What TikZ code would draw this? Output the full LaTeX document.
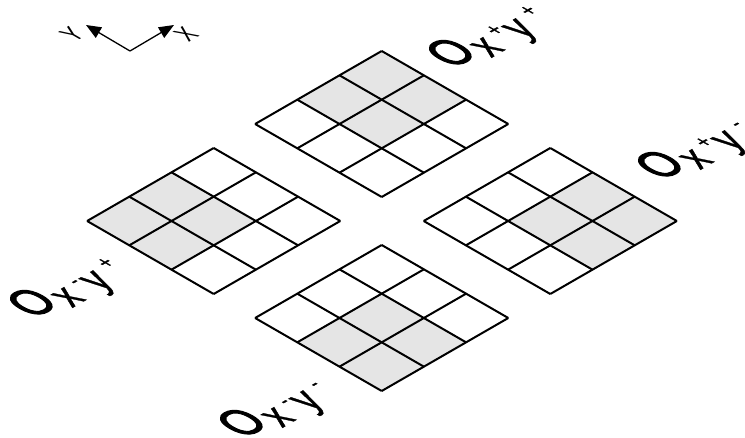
\documentclass[tikz,border=0pt]{standalone}
\usepackage{fontspec}
\setmainfont{Liberation Sans}
\newfontfamily\thickfont[FakeBold=1]{Liberation Sans}
\usetikzlibrary{arrows.meta}
\tikzset{
  x=1pt,y=-1pt,
  gridline/.style={line width=2pt,line join=miter,line cap=butt,black},
  shaded/.style={fill=black!10,draw=none},
  isotext/.style={inner sep=0pt,outer sep=0pt,anchor=base west,cm={.866,.5,-1.23,.71,(0,0)}},
  axisline/.style={line width=1.3pt,black,-{Triangle[length=15pt,width=12pt]}}
}
% cx cy umin vmin of the 2x2 shaded block
\newcommand{\isogrid}[4]{%
  \begin{scope}[shift={(#1,#2)}]
    \foreach \uu in {0,1}{\foreach \vv in {0,1}{%
      \pgfmathsetmacro{\ua}{#3+\uu}\pgfmathsetmacro{\va}{#4+\vv}%
      \fill[shaded] ({-126.6+42.2*(\ua+\va)},{24.33*(\va-\ua)})
        -- ++(42.2,-24.33) -- ++(42.2,24.33) -- ++(-42.2,24.33) -- cycle;
    }}
    \foreach \k in {0,1,2,3}{%
      \draw[gridline] ({-126.6+42.2*\k},{24.33*\k}) -- ++(126.6,-73);
      \draw[gridline] ({-126.6+42.2*\k},{-24.33*\k}) -- ++(126.6,73);
    }
  \end{scope}}
\newcommand{\isolabel}[4]{%
  \node[isotext] at (#1+3.6,#2+16.9) {\thickfont\fontsize{38}{38}\selectfont\addfontfeatures{FakeBold=2.8}O\kern3pt\raisebox{-7.6pt}{\fontsize{34}{34}\selectfont\addfontfeatures{FakeBold=1}x\kern8pt\raisebox{13pt}{\fontsize{17}{17}\selectfont #3}\kern2pt y\kern10pt\raisebox{13pt}{\fontsize{17}{17}\selectfont #4}}};}
\begin{document}
\begin{tikzpicture}
\useasboundingbox (0,0) rectangle (745,438);
\clip (0,0) rectangle (745,438);
\isogrid{381.7}{124}{1}{0}
\isogrid{213.7}{221}{0}{0}
\isogrid{550.3}{221}{1}{1}
\isogrid{381.7}{318}{0}{1}
\coordinate (o) at (130,51);
\coordinate (ax) at (174,25);
\coordinate (ay) at (86,25);
\draw[axisline] (o) -- (ax);
\draw[axisline] (o) -- (ay);
\node[isotext,anchor=center] (lx) at (186,34) {\fontsize{20}{20}\selectfont X};
\node[isotext,anchor=center] (ly) at (72,34) {\fontsize{20}{20}\selectfont Y};
\isolabel{450}{52}{+}{+}
\isolabel{659}{164}{+}{-}
\isolabel{31}{302}{-}{+}
\isolabel{241}{422}{-}{-}
\end{tikzpicture}
\end{document}
